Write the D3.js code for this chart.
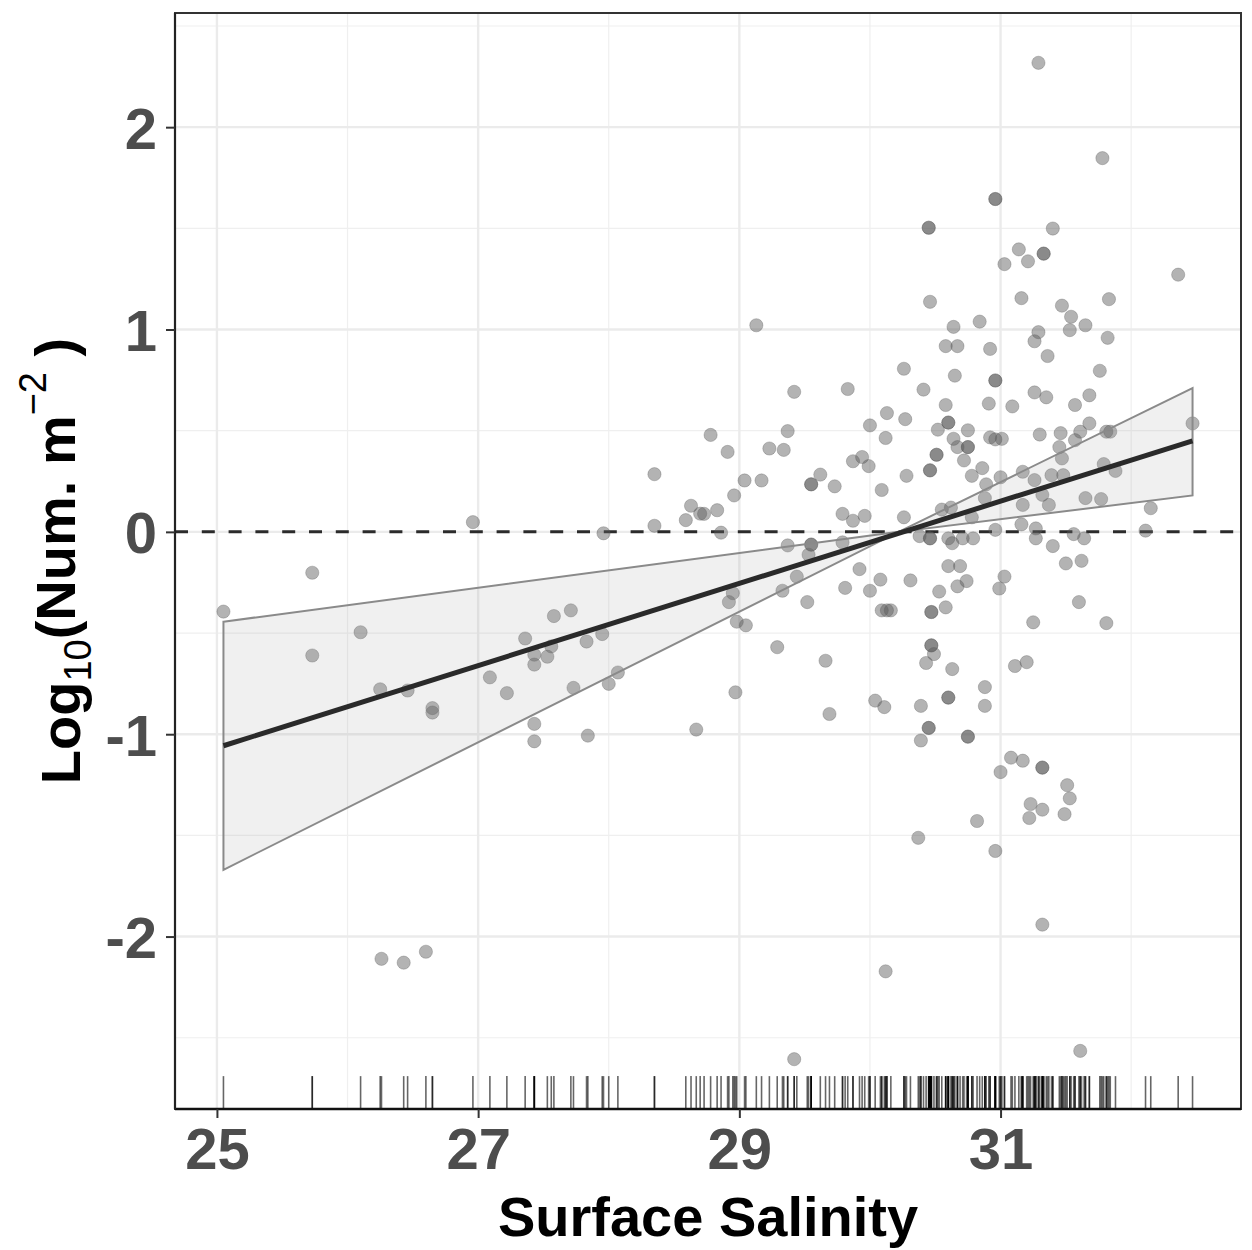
<!DOCTYPE html>
<html>
<head>
<meta charset="utf-8">
<script src="https://cdn.jsdelivr.net/npm/d3@7"></script>
<style>
  body { margin: 0; background: #fff; }
  text { font-family: "Liberation Sans", Arial, Helvetica, sans-serif; font-weight: bold; }
</style>
</head>
<body>
<script>
var width = 1252,
    height = 1250;

// observations (surface salinity, log10 density); repeated pairs are overlapping samples
var salinity = [
  25.05, 25.73, 25.73, 26.10, 26.25, 26.46, 26.65, 26.65, 26.26, 26.43, 26.60,
  26.96, 27.09, 27.22, 27.36, 27.43, 27.43, 27.53, 27.56, 27.58, 27.71, 27.43, 27.43,
  27.83, 27.73, 27.84, 27.95, 28.00, 28.07, 27.96, 28.35, 28.35, 28.59, 28.63, 28.70, 28.67,
  31.29, 31.78, 30.96, 30.96, 30.45, 30.45, 31.40, 31.14, 31.21, 31.33, 31.33, 31.03, 32.36,
  30.46, 31.16, 31.83, 29.13, 30.64, 30.84, 31.47, 31.54, 31.65, 31.29, 31.26, 31.53, 31.82,
  30.58, 30.67, 30.92, 31.36, 30.26, 30.65, 30.96, 30.96, 31.76, 29.42, 29.83, 30.41, 31.26,
  31.35, 31.68, 30.58, 30.91, 31.09, 31.57, 28.78, 29.37, 30.13, 30.00, 30.27, 30.12, 28.91,
  29.23, 29.34, 30.52, 30.60, 30.60, 30.75, 30.64, 30.92, 30.96, 31.01, 31.30, 31.46, 31.61,
  31.68, 31.57, 31.81, 31.84, 32.47, 30.67, 30.75, 30.75, 30.51, 30.51, 30.72, 31.45, 29.87,
  29.94, 29.99, 31.47, 31.79, 31.88, 29.04, 29.17, 28.96, 29.62, 29.55, 29.55, 29.73, 30.09,
  30.28, 30.46, 30.46, 30.78, 30.86, 30.89, 31.00, 31.17, 31.26, 31.39, 31.48, 31.65, 31.77,
  32.15, 28.73, 28.83, 29.79, 29.87, 29.96, 30.26, 30.55, 30.62, 30.78, 30.88, 31.17, 31.32,
  31.37, 28.86, 30.96, 31.16, 31.27, 31.56, 31.64, 32.11, 29.37, 29.55, 29.55, 29.79, 30.38,
  30.46, 30.46, 30.60, 30.63, 30.71, 30.79, 31.27, 31.40, 29.53, 29.44, 28.95, 28.92, 29.33,
  29.52, 29.92, 29.81, 30.00, 30.08, 30.31, 30.09, 30.13, 30.16, 30.60, 30.69, 30.53, 30.67,
  30.74, 30.47, 30.47, 30.58, 31.03, 30.99, 31.50, 31.62, 31.60, 31.25, 31.81, 28.98, 29.05,
  29.29, 29.66, 28.97, 29.69, 30.47, 30.47, 30.49, 30.43, 30.63, 30.88, 30.88, 31.11, 31.20,
  30.04, 30.11, 30.39, 30.60, 30.60, 30.45, 30.45, 30.39, 30.75, 30.75, 31.08, 31.17, 31.32,
  31.32, 31.00, 31.51, 31.53, 31.23, 31.32, 31.22, 31.49, 30.82, 30.37, 30.96, 31.32, 30.12,
  29.42, 31.61
];

var logDensity = [
  -0.394, -0.202, -0.611, -0.496, -0.778, -0.784, -0.871, -0.893, -2.110, -2.129, -2.075,
  0.048, -0.719, -0.797, -0.527, -0.607, -0.656, -0.617, -0.566, -0.416, -0.388, -0.949, -1.035,
  -0.542, -0.771, -1.007, -0.505, -0.751, -0.695, -0.007, 0.030, 0.285, 0.058, 0.129, 0.090, -0.977,
  2.318, 1.847, 1.645, 1.645, 1.503, 1.503, 1.499, 1.396, 1.337, 1.375, 1.375, 1.323, 1.271,
  1.137, 1.155, 1.150, 1.021, 1.013, 1.039, 1.118, 1.063, 1.021, 0.987, 0.942, 0.997, 0.959,
  0.918, 0.918, 0.904, 0.869, 0.806, 0.772, 0.748, 0.748, 0.796, 0.692, 0.706, 0.703, 0.689,
  0.665, 0.675, 0.627, 0.634, 0.620, 0.627, 0.479, 0.498, 0.587, 0.526, 0.557, 0.464, 0.395,
  0.412, 0.405, 0.505, 0.540, 0.540, 0.502, 0.460, 0.467, 0.457, 0.460, 0.481, 0.488, 0.495,
  0.536, 0.453, 0.495, 0.495, 0.536, 0.419, 0.419, 0.419, 0.381, 0.381, 0.353, 0.419, 0.349,
  0.370, 0.325, 0.363, 0.335, 0.301, 0.254, 0.254, 0.180, 0.283, 0.235, 0.235, 0.225, 0.207,
  0.277, 0.304, 0.304, 0.277, 0.315, 0.235, 0.270, 0.297, 0.256, 0.280, 0.280, 0.167, 0.162,
  0.117, 0.089, 0.107, 0.089, 0.055, 0.079, 0.072, 0.110, 0.120, 0.072, 0.167, 0.133, 0.183,
  0.133, -0.004, 0.010, 0.037, 0.017, -0.011, -0.032, 0.006, -0.067, -0.063, -0.063, -0.052, -0.021,
  -0.032, -0.032, -0.032, -0.056, -0.032, -0.032, -0.032, -0.070, -0.113, -0.221, -0.303, -0.347, -0.291,
  -0.347, -0.184, -0.277, -0.291, -0.236, -0.240, -0.388, -0.388, -0.388, -0.169, -0.169, -0.295, -0.269,
  -0.243, -0.396, -0.396, -0.373, -0.221, -0.280, -0.156, -0.143, -0.347, -0.447, -0.451, -0.444, -0.462,
  -0.570, -0.637, -0.793, -0.900, -0.561, -0.561, -0.604, -0.648, -0.678, -0.767, -0.860, -0.663, -0.644,
  -0.834, -0.866, -0.860, -0.819, -0.819, -0.969, -0.969, -1.031, -1.012, -1.012, -1.116, -1.131, -1.165,
  -1.165, -1.187, -1.252, -1.317, -1.345, -1.373, -1.414, -1.395, -1.429, -1.512, -1.577, -1.941, -2.172,
  -2.606, -2.565
];

// fitted linear trend and its band
var fitX = [25.05, 32.47],
    fitY = [-1.057, 0.450];
var bandX = [25.05, 30.22, 32.47],
    bandLow = [-1.670, 0.000, 0.180],
    bandHigh = [-0.444, 0.000, 0.710];

var xTicks = [25, 27, 29, 31],
    yTicks = [-2, -1, 0, 1, 2],
    xMinor = [26, 28, 30, 32],
    yMinor = [-2.5, -1.5, -0.5, 0.5, 1.5, 2.5];

var xLabel = "Surface Salinity";

var margin = {top: 13, right: 11, bottom: 141, left: 175};
var pw = width - margin.left - margin.right,
    ph = height - margin.top - margin.bottom;

var points = salinity.map(function(s, i) { return {x: s, y: logDensity[i]}; });

// ggplot-like 5% expansion
function expand(ext) {
  var r = ext[1] - ext[0];
  return [ext[0] - 0.05 * r, ext[1] + 0.05 * r];
}
var xExt = d3.extent(salinity.concat(bandX)),
    yExt = d3.extent(logDensity.concat(bandLow, bandHigh));

var x = d3.scaleLinear().domain(expand(xExt)).range([0, pw]);
var y = d3.scaleLinear().domain(expand(yExt)).range([ph, 0]);

var svg = d3.select("body").append("svg")
    .attr("width", width)
    .attr("height", height);

var g = svg.append("g")
    .attr("transform", "translate(" + margin.left + "," + margin.top + ")");

// grid
g.selectAll(".minor-y").data(yMinor).enter().append("line")
    .attr("x1", 0).attr("x2", pw)
    .attr("y1", function(d) { return y(d); }).attr("y2", function(d) { return y(d); })
    .attr("stroke", "#efefef").attr("stroke-width", 1.2);
g.selectAll(".minor-x").data(xMinor).enter().append("line")
    .attr("y1", 0).attr("y2", ph)
    .attr("x1", function(d) { return x(d); }).attr("x2", function(d) { return x(d); })
    .attr("stroke", "#efefef").attr("stroke-width", 1.2);
g.selectAll(".major-y").data(yTicks).enter().append("line")
    .attr("x1", 0).attr("x2", pw)
    .attr("y1", function(d) { return y(d); }).attr("y2", function(d) { return y(d); })
    .attr("stroke", "#ebebeb").attr("stroke-width", 2.4);
g.selectAll(".major-x").data(xTicks).enter().append("line")
    .attr("y1", 0).attr("y2", ph)
    .attr("x1", function(d) { return x(d); }).attr("x2", function(d) { return x(d); })
    .attr("stroke", "#ebebeb").attr("stroke-width", 2.4);

// zero reference
g.append("line")
    .attr("x1", 0).attr("x2", pw)
    .attr("y1", y(0)).attr("y2", y(0))
    .attr("stroke", "#2b2b2b")
    .attr("stroke-width", 3)
    .attr("stroke-dasharray", "13,13.8");

// points
g.selectAll(".pt").data(points).enter().append("circle")
    .attr("class", "pt")
    .attr("cx", function(d) { return x(d.x); })
    .attr("cy", function(d) { return y(d.y); })
    .attr("r", 6.6)
    .attr("fill", "#5a5a5a")
    .attr("fill-opacity", 0.46)
    .attr("stroke", "#555")
    .attr("stroke-opacity", 0.3)
    .attr("stroke-width", 1);

// confidence band
var band = bandX.map(function(v, i) { return {x: v, lo: bandLow[i], hi: bandHigh[i]}; });
var area = d3.area()
    .x(function(d) { return x(d.x); })
    .y0(function(d) { return y(d.lo); })
    .y1(function(d) { return y(d.hi); });
g.append("path")
    .datum(band)
    .attr("d", area)
    .attr("fill", "#999")
    .attr("fill-opacity", 0.15)
    .attr("stroke", "#8a8a8a")
    .attr("stroke-width", 2)
    .attr("stroke-linejoin", "miter");

// fitted line
var fit = fitX.map(function(v, i) { return {x: v, y: fitY[i]}; });
g.append("path")
    .datum(fit)
    .attr("d", d3.line().x(function(d) { return x(d.x); }).y(function(d) { return y(d.y); }))
    .attr("fill", "none")
    .attr("stroke", "#2a2a2a")
    .attr("stroke-width", 5);

// rug
var rugLen = ph * 0.03;
g.selectAll(".rug").data(salinity).enter().append("line")
    .attr("x1", function(d) { return x(d); }).attr("x2", function(d) { return x(d); })
    .attr("y1", ph - rugLen).attr("y2", ph)
    .attr("stroke", "#000")
    .attr("stroke-opacity", 0.6)
    .attr("stroke-width", 1.6);

// panel border
g.append("rect")
    .attr("width", pw).attr("height", ph)
    .attr("fill", "none")
    .attr("stroke", "#333")
    .attr("stroke-width", 2);
g.append("line")
    .attr("x1", 0).attr("x2", pw).attr("y1", ph).attr("y2", ph)
    .attr("stroke", "#111").attr("stroke-width", 2.5);
g.append("line")
    .attr("x1", 0).attr("x2", 0).attr("y1", 0).attr("y2", ph)
    .attr("stroke", "#222").attr("stroke-width", 2.2);

// axes
var fmt = function(d) { return String(d); };
var xAxis = g.append("g")
    .attr("transform", "translate(0," + ph + ")")
    .call(d3.axisBottom(x).tickValues(xTicks).tickSize(9).tickPadding(10).tickFormat(fmt));
var yAxis = g.append("g")
    .call(d3.axisLeft(y).tickValues(yTicks).tickSize(9).tickPadding(9).tickFormat(fmt));

[xAxis, yAxis].forEach(function(ax) {
  ax.select(".domain").remove();
  ax.selectAll(".tick line").attr("stroke", "#333").attr("stroke-width", 2);
  ax.selectAll(".tick text")
      .attr("fill", "#4d4d4d")
      .style("font-size", "58px")
      .style("font-weight", "bold");
});
yAxis.selectAll(".tick text").attr("dy", "0.36em");

// axis titles
svg.append("text")
    .attr("x", margin.left + pw / 2)
    .attr("y", 1236)
    .attr("text-anchor", "middle")
    .attr("fill", "#000")
    .style("font-size", "56px")
    .text(xLabel);

var yt = svg.append("text")
    .attr("transform", "translate(80," + (margin.top + ph / 2) + ") rotate(-90)")
    .attr("text-anchor", "middle")
    .attr("fill", "#000")
    .style("font-size", "56px");
yt.append("tspan").text("Log");
yt.append("tspan").attr("dy", "0.28em").style("font-size", "38px").style("font-weight", "normal").text("10");
yt.append("tspan").attr("dy", "-0.28em").text("(Num. m");
yt.append("tspan").attr("dy", "-0.75em").style("font-size", "38px").style("font-weight", "normal").text("\u22122");
yt.append("tspan").attr("dy", "0.5em").text(" )");
</script>
</body>
</html>
